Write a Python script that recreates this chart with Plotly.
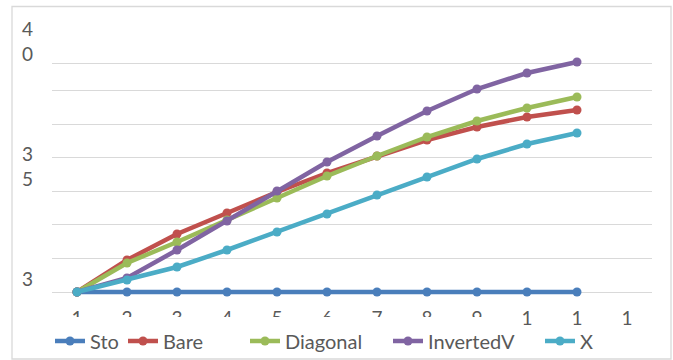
import plotly.graph_objects as go

categories = [1, 2, 3, 4, 5, 6, 7, 8, 9, 10, 11]
tick_positions = [1, 2, 3, 4, 5, 6, 7, 8, 9, 10, 11, 12]
tick_labels = ["1", "2", "3", "4", "5", "6", "7", "8", "9", "1", "1", "1"]

sto = [30, 30, 30, 30, 30, 30, 30, 30, 30, 30, 30]
bare = [30, 31.28, 32.32, 33.16, 34.00, 34.76, 35.44, 36.08, 36.60, 37.00, 37.28]
diagonal = [30, 31.16, 32.00, 32.88, 33.76, 34.64, 35.44, 36.20, 36.84, 37.36, 37.80]
inverted_v = [30, 30.56, 31.68, 32.84, 34.04, 35.20, 36.24, 37.24, 38.12, 38.76, 39.20]
x_series = [30, 30.48, 31.00, 31.68, 32.40, 33.12, 33.88, 34.60, 35.32, 35.92, 36.36]

y_tick_vals = [30, 35, 40]
y_tick_text = ["3<br>\u00a0", "3<br>5", "4<br>0"]
grid_vals = [30, 31.36, 32.70, 34.04, 35.38, 36.72, 38.08, 39.16, 40.75]

series = [
    ("Sto", sto, "#4a7ebb"),
    ("Bare", bare, "#c0504d"),
    ("Diagonal", diagonal, "#9bbb59"),
    ("InvertedV", inverted_v, "#8064a2"),
    ("X", x_series, "#4bacc6"),
]

FONT = "Lato"
TXT = "#595959"

L, R, T, B = 52, 21, 23, 63
W, H = 673, 360
pw = W - L - R
ph = H - T - B

def px_to_paper_x(px):
    return (px - L) / pw

def px_to_paper_y(py):
    return (H - B - py) / ph

legend_line_starts = [55, 128, 250, 393, 545]

fig = go.Figure()
legend_layouts = {}
for i, (name, vals, col) in enumerate(series):
    lname = "legend" if i == 0 else f"legend{i+1}"
    fig.add_trace(go.Scatter(
        x=categories, y=vals, name=name, mode="lines+markers",
        line=dict(color=col, width=4.5),
        marker=dict(color=col, size=9),
        legend=lname, cliponaxis=False,
    ))
    legend_layouts[lname] = dict(
        x=px_to_paper_x(legend_line_starts[i] - 5), y=px_to_paper_y(341),
        xanchor="left", yanchor="middle", orientation="h",
        bgcolor="rgba(0,0,0,0)", borderwidth=0,
        font=dict(family=FONT, size=20, color=TXT),
    )

fig.update_layout(
    width=W, height=H,
    margin=dict(l=L, r=R, t=T, b=B, autoexpand=False),
    paper_bgcolor="white", plot_bgcolor="white",
    showlegend=True,
    **legend_layouts,
)

fig.update_xaxes(
    range=[0.5, 12.5], tickmode="array", tickvals=tick_positions, ticktext=tick_labels,
    showgrid=False, zeroline=False, showline=False,
    ticks="", ticklabelstandoff=8,
    tickfont=dict(family=FONT, size=19, color=TXT),
)
fig.update_yaxes(
    range=[29.8, 40.76], tickmode="array", tickvals=y_tick_vals, ticktext=y_tick_text,
    showgrid=False, zeroline=False, showline=False, ticks="", ticklabelstandoff=18,
    tickfont=dict(family=FONT, size=19, color=TXT),
    minor=dict(tickmode="array", tickvals=grid_vals, showgrid=True,
               gridcolor="#d9d9d9", gridwidth=1.3, ticks=""),
)

# outer chart frame
fig.add_shape(type="rect", xref="paper", yref="paper",
              x0=px_to_paper_x(12), x1=px_to_paper_x(671),
              y0=px_to_paper_y(359), y1=px_to_paper_y(6.5),
              line=dict(color="#d9d9d9", width=1.3), fillcolor="rgba(0,0,0,0)",
              layer="below")
# clipped lower part of single-digit category labels
fig.add_shape(type="rect", xref="paper", yref="paper",
              x0=px_to_paper_x(60), x1=px_to_paper_x(495),
              y0=px_to_paper_y(328), y1=px_to_paper_y(317),
              line=dict(width=0), fillcolor="white", layer="above")

fig.write_html("out.html")
